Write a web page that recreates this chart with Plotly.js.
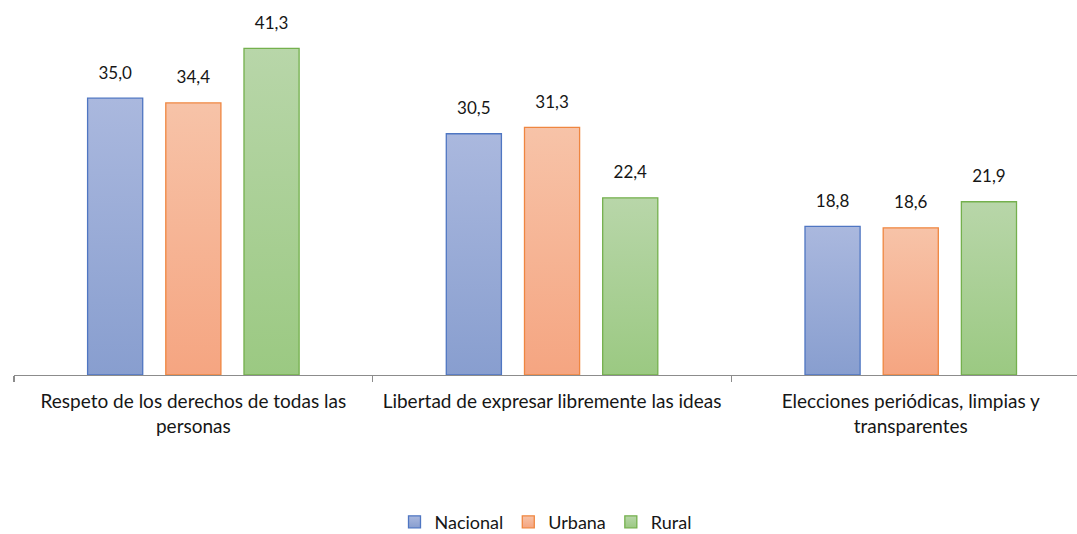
<!DOCTYPE html>
<html>
<head>
<meta charset="utf-8">
<script src="https://cdn.plot.ly/plotly-3.0.1.min.js"></script>
<style>html,body{margin:0;padding:0;background:#fff;}#chart{width:1077px;height:534px;}</style>
</head>
<body>
<div id="chart"></div>
<script>
const categories = [
  "Respeto de los derechos de todas las<br>personas",
  "Libertad de expresar libremente las ideas",
  "Elecciones periódicas, limpias y<br>transparentes"
];
const seriesNames = ["Nacional", "Urbana", "Rural"];
const nacional = [35.0, 30.5, 18.8];
const urbana = [34.4, 31.3, 18.6];
const rural = [41.3, 22.4, 21.9];
const values = [nacional, urbana, rural];

const fills = ["#98aad6", "#f5b392", "#a9cf94"];
const lines = ["#4f76c2", "#ef8640", "#74b04d"];
const gradTop = ["#aab8de", "#f7c3a8", "#b8d6a9"];
const gradBot = ["#889ecf", "#f5a581", "#9bc982"];

const font = "Lato, 'Open Sans', sans-serif";
const textColor = "#161616";

const traces = [];
values.forEach((vals, i) => {
  traces.push({
    type: "bar",
    name: seriesNames[i],
    x: categories,
    y: vals,
    offsetgroup: String(i),
    marker: {color: fills[i], line: {color: lines[i], width: 1.3}},
    hoverinfo: "skip"
  });
});
values.forEach((vals, i) => {
  traces.push({
    type: "scatter",
    mode: "markers+text",
    x: categories,
    y: vals,
    offsetgroup: String(i),
    text: vals.map(v => v.toFixed(1).replace(".", ",")),
    textposition: "top center",
    textfont: {family: font, size: 17, color: textColor},
    marker: {size: 23, opacity: 0, color: fills[i]},
    showlegend: false,
    hoverinfo: "skip",
    cliponaxis: false
  });
});

const catWidthPx = 358.7;
const plotW = 1077 - 14;
const layout = {
  width: 1077,
  height: 534,
  margin: {l: 14, r: 0, t: 10, b: 159, autoexpand: false},
  paper_bgcolor: "#ffffff",
  plot_bgcolor: "#ffffff",
  barmode: "group",
  scattermode: "group",
  bargap: 0.346,
  bargroupgap: 0.295,
  scattergap: 0.346,
  font: {family: font, size: 17, color: textColor},
  showlegend: true,
  legend: {
    orientation: "h",
    x: 0.5, xanchor: "center",
    y: -0.403, yanchor: "middle",
    font: {family: font, size: 18, color: textColor},
    itemwidth: 30,
    traceorder: "normal"
  },
  xaxis: {
    type: "category",
    range: [-0.5, -0.5 + plotW / catWidthPx],
    automargin: false,
    showline: true,
    linecolor: "#8c8c8c",
    linewidth: 1.3,
    ticks: "outside",
    tickson: "boundaries",
    ticklen: 6,
    tickcolor: "#8c8c8c",
    tickwidth: 1.3,
    ticklabelstandoff: 9,
    tickfont: {family: font, size: 19, color: textColor},
    showgrid: false,
    zeroline: false,
    fixedrange: true
  },
  yaxis: {
    range: [0, 365 / 7.91],
    visible: false,
    automargin: false,
    showgrid: false,
    zeroline: false,
    fixedrange: true
  }
};

Plotly.newPlot("chart", traces, layout, {displayModeBar: false, staticPlot: true}).then(gd => {
  const svg = gd.querySelector("svg.main-svg");
  const ns = "http://www.w3.org/2000/svg";
  let defs = svg.querySelector("defs");
  if (!defs) { defs = document.createElementNS(ns, "defs"); svg.insertBefore(defs, svg.firstChild); }
  gradTop.forEach((c, i) => {
    const g = document.createElementNS(ns, "linearGradient");
    g.setAttribute("id", "barGrad" + i);
    g.setAttribute("x1", "0"); g.setAttribute("y1", "0");
    g.setAttribute("x2", "0"); g.setAttribute("y2", "1");
    const s1 = document.createElementNS(ns, "stop");
    s1.setAttribute("offset", "0"); s1.setAttribute("stop-color", gradTop[i]);
    const s2 = document.createElementNS(ns, "stop");
    s2.setAttribute("offset", "1"); s2.setAttribute("stop-color", gradBot[i]);
    g.appendChild(s1); g.appendChild(s2);
    defs.appendChild(g);
  });
  gd.querySelectorAll(".barlayer .trace").forEach((t, i) => {
    t.querySelectorAll("path").forEach(p => { p.style.fill = "url(#barGrad" + i + ")"; });
  });
  gd.querySelectorAll(".legend .traces").forEach((t, i) => {
    t.querySelectorAll(".legendpoints path").forEach(p => { p.style.fill = "url(#barGrad" + i + ")"; });
  });
});
</script>
</body>
</html>
